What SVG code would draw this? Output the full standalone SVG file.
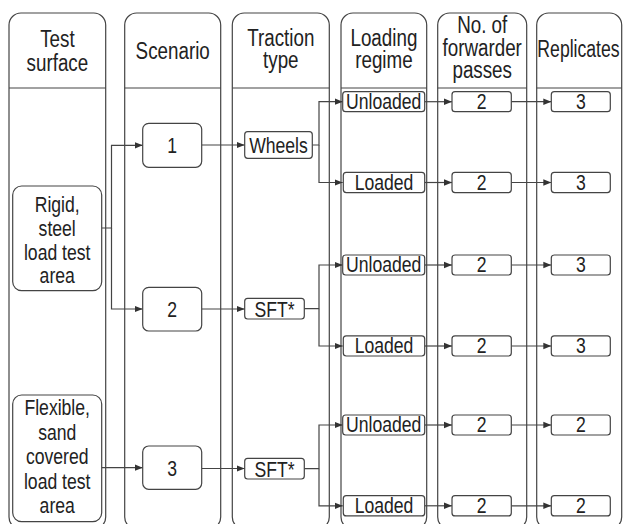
<svg xmlns="http://www.w3.org/2000/svg" width="623" height="524" viewBox="0 0 623 524">
<style>
.lane{fill:#fff;stroke:#444;stroke-width:1.2}
.hd{stroke:#444;stroke-width:1.2}
.box{fill:#fff;stroke:#444;stroke-width:1.2}
.t{font-family:"Liberation Sans",Arial,sans-serif;fill:#222;text-anchor:middle}
.h{font-size:23.5px}
.n{font-size:22px}
.s{font-size:22px}
.c{fill:none;stroke:#444;stroke-width:1.2}
</style>
<defs>
<marker id="ah" markerUnits="userSpaceOnUse" markerWidth="9" markerHeight="8" refX="8" refY="4" orient="auto">
<path d="M0,0.8 L8,4 L0,7.2 z" fill="#333"/>
</marker>
</defs>
<rect width="623" height="524" fill="#fff"/>
<g id="lanes">
<g id="lane-surface"><rect class="lane" x="9" y="13" width="96.7" height="516" rx="12"/><line class="hd" x1="9" y1="88" x2="105.7" y2="88"/><text class="t h" transform="matrix(0.8 0 0 1 57.4 47.3)">Test</text><text class="t h" transform="matrix(0.8 0 0 1 57.4 70.5)">surface</text></g>
<g id="lane-scenario"><rect class="lane" x="124.7" y="13" width="96" height="516" rx="12"/><line class="hd" x1="124.7" y1="88" x2="220.7" y2="88"/><text class="t h" transform="matrix(0.8 0 0 1 172.7 59)">Scenario</text></g>
<g id="lane-traction"><rect class="lane" x="232.3" y="13" width="97" height="516" rx="12"/><line class="hd" x1="232.3" y1="88" x2="329.3" y2="88"/><text class="t h" transform="matrix(0.8 0 0 1 280.8 45.5)">Traction</text><text class="t h" transform="matrix(0.8 0 0 1 280.8 68)">type</text></g>
<g id="lane-loading"><rect class="lane" x="341" y="13" width="85.7" height="516" rx="12"/><line class="hd" x1="341" y1="88" x2="426.7" y2="88"/><text class="t h" transform="matrix(0.8 0 0 1 383.9 46)">Loading</text><text class="t h" transform="matrix(0.8 0 0 1 383.9 68.3)">regime</text></g>
<g id="lane-passes"><rect class="lane" x="437.7" y="13" width="89" height="516" rx="12"/><line class="hd" x1="437.7" y1="88" x2="526.7" y2="88"/><text class="t h" transform="matrix(0.8 0 0 1 482.2 32.5)">No. of</text><text class="t h" transform="matrix(0.8 0 0 1 482.2 55.5)">forwarder</text><text class="t h" transform="matrix(0.8 0 0 1 482.2 78)">passes</text></g>
<g id="lane-replicates"><rect class="lane" x="536.7" y="13" width="85" height="516" rx="12"/><line class="hd" x1="536.7" y1="88" x2="621.7" y2="88"/><text class="t h" transform="matrix(0.75 0 0 1 578.5 57)">Replicates</text></g>
</g>
<g id="connectors">
<path class="c" d="M101.7,228 H111.5 V145.3 H142.7" marker-end="url(#ah)"/>
<path class="c" d="M111.5,228 V309 H142.7" marker-end="url(#ah)"/>
<path class="c" d="M101.7,467.7 H142.7" marker-end="url(#ah)"/>
<path class="c" d="M201.7,145 H244.7" marker-end="url(#ah)"/>
<path class="c" d="M201.7,309 H244.7" marker-end="url(#ah)"/>
<path class="c" d="M201.7,468.5 H244.7" marker-end="url(#ah)"/>
<path class="c" d="M312.3,145 H319 V101.7 H342.7" marker-end="url(#ah)"/>
<path class="c" d="M319,145 V182.5 H342.7" marker-end="url(#ah)"/>
<path class="c" d="M304.3,308.7 H319 V265 H342.7" marker-end="url(#ah)"/>
<path class="c" d="M319,308.7 V346 H342.7" marker-end="url(#ah)"/>
<path class="c" d="M304.3,468.7 H319 V425 H342.7" marker-end="url(#ah)"/>
<path class="c" d="M319,468.7 V505.8 H342.7" marker-end="url(#ah)"/>
<path class="c" d="M424.7,101.7 H452" marker-end="url(#ah)"/>
<path class="c" d="M424.7,182.5 H452" marker-end="url(#ah)"/>
<path class="c" d="M424.7,265 H452" marker-end="url(#ah)"/>
<path class="c" d="M424.7,346 H452" marker-end="url(#ah)"/>
<path class="c" d="M424.7,425 H452" marker-end="url(#ah)"/>
<path class="c" d="M424.7,505.8 H452" marker-end="url(#ah)"/>
<path class="c" d="M511.3,101.7 H551.3" marker-end="url(#ah)"/>
<path class="c" d="M511.3,182.5 H551.3" marker-end="url(#ah)"/>
<path class="c" d="M511.3,265 H551.3" marker-end="url(#ah)"/>
<path class="c" d="M511.3,346 H551.3" marker-end="url(#ah)"/>
<path class="c" d="M511.3,425 H551.3" marker-end="url(#ah)"/>
<path class="c" d="M511.3,505.8 H551.3" marker-end="url(#ah)"/>
</g>
<g id="rigid"><rect class="box" x="12.7" y="186" width="89" height="104.7" rx="9"/><text class="t n" transform="matrix(0.8 0 0 1 57.2 212)">Rigid,</text><text class="t n" transform="matrix(0.8 0 0 1 57.2 236)">steel</text><text class="t n" transform="matrix(0.8 0 0 1 57.2 259.5)">load test</text><text class="t n" transform="matrix(0.8 0 0 1 57.2 283)">area</text></g>
<g id="flexible"><rect class="box" x="12.7" y="395" width="89" height="126.7" rx="9"/><text class="t n" transform="matrix(0.8 0 0 1 57.2 415)">Flexible,</text><text class="t n" transform="matrix(0.8 0 0 1 57.2 439.5)">sand</text><text class="t n" transform="matrix(0.8 0 0 1 57.2 464)">covered</text><text class="t n" transform="matrix(0.8 0 0 1 57.2 488.5)">load test</text><text class="t n" transform="matrix(0.8 0 0 1 57.2 513)">area</text></g>
<g id="sc1"><rect class="box" x="142.7" y="123.3" width="59" height="44" rx="6"/><text class="t n" transform="matrix(0.8 0 0 1 172.2 153.3)">1</text></g>
<g id="sc2"><rect class="box" x="142.7" y="287.3" width="59" height="43.7" rx="6"/><text class="t n" transform="matrix(0.8 0 0 1 172.2 317)">2</text></g>
<g id="sc3"><rect class="box" x="142.7" y="446" width="59" height="43.3" rx="6"/><text class="t n" transform="matrix(0.8 0 0 1 172.2 475.7)">3</text></g>
<g id="wheels"><rect class="box" x="244.7" y="131.7" width="67.6" height="26.6" rx="3"/><text class="t s" transform="matrix(0.8 0 0 1 278.5 152.8)">Wheels</text></g>
<g id="sft1"><rect class="box" x="244.7" y="298.3" width="59.6" height="20.7" rx="3"/><text class="t s" transform="matrix(0.8 0 0 1 274.5 316.5)">SFT*</text></g>
<g id="sft2"><rect class="box" x="244.7" y="458.3" width="59.6" height="20.7" rx="3"/><text class="t s" transform="matrix(0.8 0 0 1 274.5 476.5)">SFT*</text></g>
<g id="ul1"><rect class="box" x="342.7" y="91.7" width="82" height="20" rx="3"/><text class="t s" transform="matrix(0.8 0 0 1 383.7 109)">Unloaded</text></g>
<g id="ld1"><rect class="box" x="343.3" y="172.4" width="81.4" height="20.2" rx="3"/><text class="t s" transform="matrix(0.8 0 0 1 384 189.8)">Loaded</text></g>
<g id="ul2"><rect class="box" x="342.7" y="255" width="82" height="20" rx="3"/><text class="t s" transform="matrix(0.8 0 0 1 383.7 272.3)">Unloaded</text></g>
<g id="ld2"><rect class="box" x="343.3" y="335.8" width="81.4" height="20.2" rx="3"/><text class="t s" transform="matrix(0.8 0 0 1 384 353.2)">Loaded</text></g>
<g id="ul3"><rect class="box" x="342.7" y="415" width="82" height="20" rx="3"/><text class="t s" transform="matrix(0.8 0 0 1 383.7 432.3)">Unloaded</text></g>
<g id="ld3"><rect class="box" x="343.3" y="495.7" width="81.4" height="20.2" rx="3"/><text class="t s" transform="matrix(0.8 0 0 1 384 513)">Loaded</text></g>
<g id="p1"><rect class="box" x="452" y="91.7" width="59.3" height="20" rx="3"/><text class="t s" transform="matrix(0.8 0 0 1 481.7 109)">2</text></g>
<g id="p2"><rect class="box" x="452" y="172.4" width="59.3" height="20.2" rx="3"/><text class="t s" transform="matrix(0.8 0 0 1 481.7 189.8)">2</text></g>
<g id="p3"><rect class="box" x="452" y="255" width="59.3" height="20" rx="3"/><text class="t s" transform="matrix(0.8 0 0 1 481.7 272.3)">2</text></g>
<g id="p4"><rect class="box" x="452" y="335.8" width="59.3" height="20.2" rx="3"/><text class="t s" transform="matrix(0.8 0 0 1 481.7 353.2)">2</text></g>
<g id="p5"><rect class="box" x="452" y="415" width="59.3" height="20" rx="3"/><text class="t s" transform="matrix(0.8 0 0 1 481.7 432.3)">2</text></g>
<g id="p6"><rect class="box" x="452" y="495.7" width="59.3" height="20.2" rx="3"/><text class="t s" transform="matrix(0.8 0 0 1 481.7 513)">2</text></g>
<g id="r1"><rect class="box" x="551.3" y="91.7" width="59" height="20" rx="3"/><text class="t s" transform="matrix(0.8 0 0 1 580.8 109)">3</text></g>
<g id="r2"><rect class="box" x="551.3" y="172.4" width="59" height="20.2" rx="3"/><text class="t s" transform="matrix(0.8 0 0 1 580.8 189.8)">3</text></g>
<g id="r3"><rect class="box" x="551.3" y="255" width="59" height="20" rx="3"/><text class="t s" transform="matrix(0.8 0 0 1 580.8 272.3)">3</text></g>
<g id="r4"><rect class="box" x="551.3" y="335.8" width="59" height="20.2" rx="3"/><text class="t s" transform="matrix(0.8 0 0 1 580.8 353.2)">3</text></g>
<g id="r5"><rect class="box" x="551.3" y="415" width="59" height="20" rx="3"/><text class="t s" transform="matrix(0.8 0 0 1 580.8 432.3)">2</text></g>
<g id="r6"><rect class="box" x="551.3" y="495.7" width="59" height="20.2" rx="3"/><text class="t s" transform="matrix(0.8 0 0 1 580.8 513)">2</text></g>
</svg>
